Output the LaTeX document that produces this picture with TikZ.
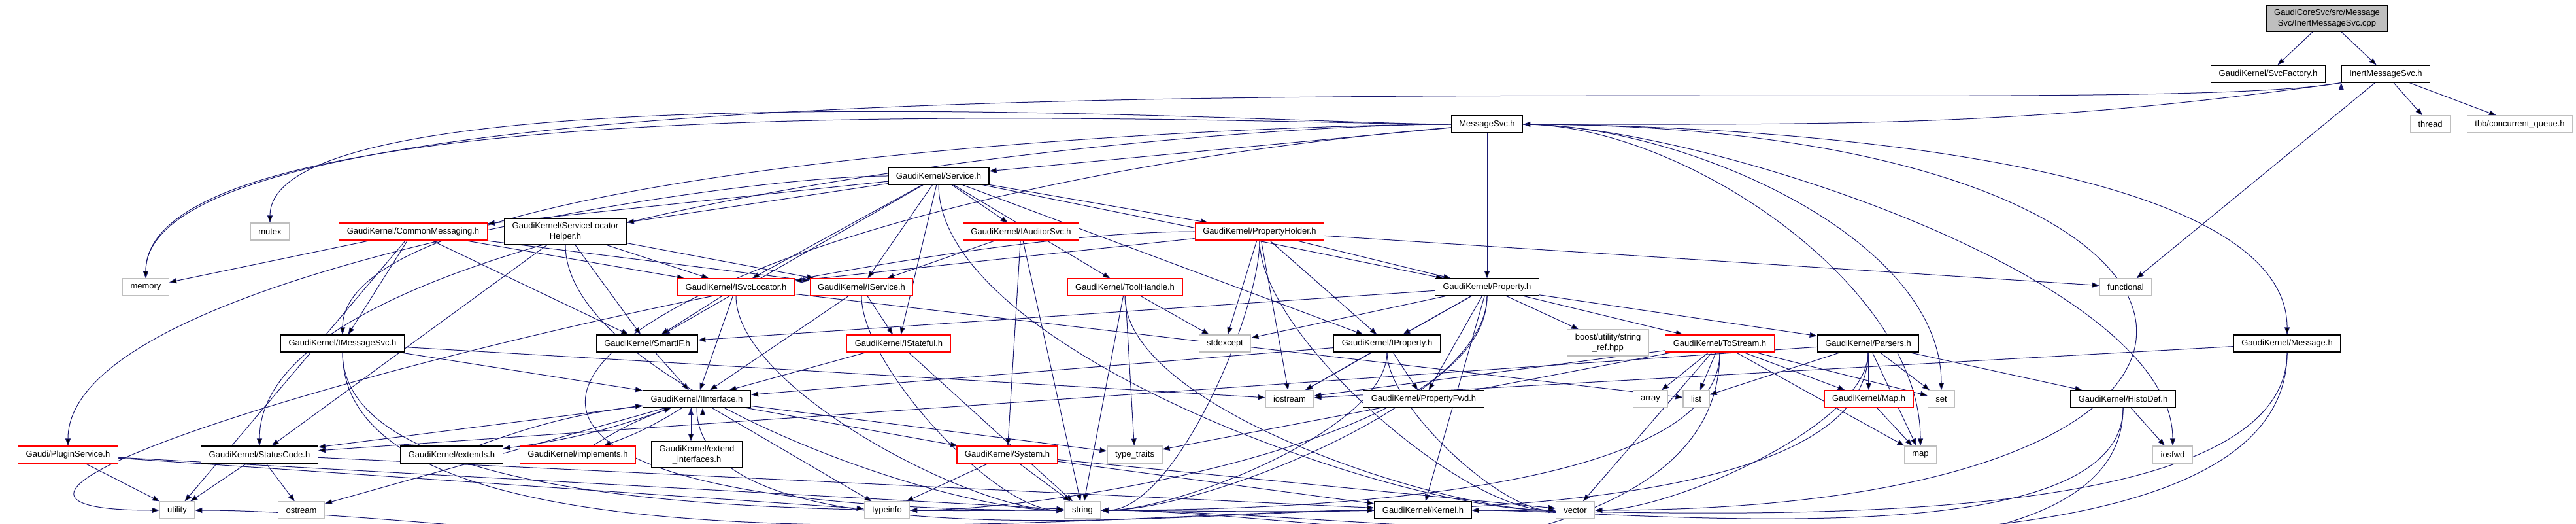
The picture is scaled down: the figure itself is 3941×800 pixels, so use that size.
\documentclass[tikz,border=0pt]{standalone}
\usepackage{fontspec}
\setmainfont{Liberation Sans}
\usetikzlibrary{arrows.meta, backgrounds}
\definecolor{edgeblue}{RGB}{25, 25, 112}
\definecolor{boxred}{RGB}{255, 0, 0}
\definecolor{boxgray}{RGB}{191, 191, 191}

\tikzset{
  hdr/.style={draw=black, fill=white, line width=0.24pt, align=center, inner xsep=2.4pt, inner ysep=1.2pt, minimum height=5.2pt, font=\fontsize{2.6}{3.2}\selectfont},
  hdrred/.style={hdr, draw=boxred},
  sysinc/.style={hdr, draw=boxgray},
  srcfile/.style={hdr, fill=boxgray},
  incl/.style={draw=edgeblue, line width=0.2pt, -{Triangle[length=2.2pt, width=1.6pt]}},
  dropleft/.style={out=180, in=90, looseness=#1},
  intoside/.style={out=-90, in=#1, looseness=0.6},
}

\begin{document}
\begin{tikzpicture}[x=0.2pt, y=0.2pt]
  \useasboundingbox (0,0) rectangle (3941,800);

  % the file and what it includes
  \node[srcfile] (cpp) at (3560,772) {GaudiCoreSvc/src/Message\\Svc/InertMessageSvc.cpp};
  \node[hdr] (svcfac) at (3470,687) {GaudiKernel/SvcFactory.h};
  \node[hdr] (inert) at (3650,687) {InertMessageSvc.h};

  % rank 2 and 3
  \node[hdr] (msgsvc) at (2275,610) {MessageSvc.h};
  \node[sysinc] (thread) at (3718,610) {thread};
  \node[sysinc] (tbb) at (3855,610) {tbb/concurrent\_queue.h};
  \node[hdr] (service) at (1436,531) {GaudiKernel/Service.h};

  % rank 4
  \node[sysinc] (mutex) at (413,446) {mutex};
  \node[hdrred] (commsg) at (632,446) {GaudiKernel/CommonMessaging.h};
  \node[hdr] (slhelper) at (865,446) {GaudiKernel/ServiceLocator\\Helper.h};
  \node[hdrred] (iaudit) at (1562,446) {GaudiKernel/IAuditorSvc.h};
  \node[hdrred] (propholder) at (1927,446) {GaudiKernel/PropertyHolder.h};

  % rank 5
  \node[sysinc] (memory) at (223,361) {memory};
  \node[hdrred] (isvcloc) at (1126,361) {GaudiKernel/ISvcLocator.h};
  \node[hdrred] (iservice) at (1318,361) {GaudiKernel/IService.h};
  \node[hdrred] (toolhandle) at (1721,361) {GaudiKernel/ToolHandle.h};
  \node[hdr] (property) at (2275,361) {GaudiKernel/Property.h};
  \node[sysinc] (functional) at (3252,361) {functional};

  % rank 6
  \node[hdr] (imsgsvc) at (524,275) {GaudiKernel/IMessageSvc.h};
  \node[hdr] (smartif) at (990,275) {GaudiKernel/SmartIF.h};
  \node[hdrred] (istateful) at (1375,275) {GaudiKernel/IStateful.h};
  \node[sysinc] (stdexcept) at (1874,275) {stdexcept};
  \node[hdr] (iprop) at (2122,275) {GaudiKernel/IProperty.h};
  \node[sysinc] (boostref) at (2460,276) {boost/utility/string\\\_ref.hpp};
  \node[hdrred] (tostream) at (2631,275) {GaudiKernel/ToStream.h};
  \node[hdr] (parsers) at (2858,275) {GaudiKernel/Parsers.h};
  \node[hdr] (message) at (3499,275) {GaudiKernel/Message.h};

  % rank 7
  \node[hdr] (iiface) at (1066,190) {GaudiKernel/IInterface.h};
  \node[sysinc] (iostream) at (1973,190) {iostream};
  \node[hdr] (propfwd) at (2178,190) {GaudiKernel/PropertyFwd.h};
  \node[sysinc] (array) at (2525,190) {array};
  \node[sysinc] (list) at (2595,190) {list};
  \node[hdrred] (gkmap) at (2859,190) {GaudiKernel/Map.h};
  \node[sysinc] (set) at (2970,190) {set};
  \node[hdr] (histodef) at (3248,190) {GaudiKernel/HistoDef.h};

  % rank 8
  \node[hdrred] (pluginsvc) at (104,105) {Gaudi/PluginService.h};
  \node[hdr] (statuscode) at (397,105) {GaudiKernel/StatusCode.h};
  \node[hdr] (extends) at (691,105) {GaudiKernel/extends.h};
  \node[hdrred] (implements) at (884,105) {GaudiKernel/implements.h};
  \node[hdr] (extiface) at (1066,105) {GaudiKernel/extend\\\_interfaces.h};
  \node[hdrred] (system) at (1541,105) {GaudiKernel/System.h};
  \node[sysinc] (typetraits) at (1736,105) {type\_traits};
  \node[sysinc] (map) at (2938,105) {map};
  \node[sysinc] (iosfwd) at (3324,105) {iosfwd};

  % rank 9
  \node[sysinc] (utility) at (271,20) {utility};
  \node[sysinc] (ostream) at (461,20) {ostream};
  \node[sysinc] (typeinfo) at (1357,20) {typeinfo};
  \node[sysinc] (string) at (1656,20) {string};
  \node[hdr] (kernel) at (2177,20) {GaudiKernel/Kernel.h};
  \node[sysinc] (vector) at (2410,20) {vector};

  \begin{scope}[on background layer]
    % InertMessageSvc.cpp, InertMessageSvc.h
    \path[incl] (cpp) edge (svcfac) edge (inert);
    \path[incl] (inert) edge (thread) edge (tbb) edge (functional);
    \path[incl] (inert.south west) edge[out=188, in=0] (msgsvc.east)
      edge[out=190, in=90, looseness=0.3] (memory);

    % MessageSvc.h
    \path[incl] (msgsvc) edge (service) edge (property)
      edge[out=185, in=180, looseness=4] (string)
      edge[dropleft=0.4] (imsgsvc) edge[dropleft=0.5] (statuscode)
      edge[dropleft=0.4] (memory) edge[dropleft=0.35] (mutex)
      edge[out=0, in=0, looseness=5] (vector)
      edge[out=0, in=90, looseness=0.8] (map) edge[out=0, in=90, looseness=0.8] (set)
      edge[out=0, in=90, looseness=0.6] (iosfwd) edge[out=0, in=90, looseness=0.6] (message);

    % Service.h
    \path[incl] (service) edge (commsg) edge (slhelper) edge (iaudit) edge (propholder)
      edge (isvcloc) edge (iservice) edge (istateful) edge (toolhandle)
      edge (property) edge (iprop) edge (smartif)
      edge[dropleft=0.5] (pluginsvc) edge[intoside=180] (vector);

    % rank 4 headers
    \path[incl] (commsg) edge (memory) edge (utility) edge (imsgsvc) edge (smartif)
      edge (isvcloc) edge (iservice);
    \path[incl] (slhelper) edge (isvcloc) edge (iservice) edge (smartif) edge (statuscode)
      edge[intoside=180] (string);
    \path[incl] (iaudit) edge (iservice) edge (system) edge (string);
    \path[incl] (propholder) edge (isvcloc) edge (iprop) edge (property) edge (functional)
      edge (iostream) edge (stdexcept) edge[intoside=0] (string)
      edge[out=180, in=180, looseness=0.9] (utility) edge[intoside=180] (vector);

    % rank 5 headers
    \path[incl] (isvcloc) edge (iiface) edge (smartif) edge (list) edge[intoside=180] (string);
    \path[incl] (iservice) edge (iiface) edge (istateful) edge[intoside=180] (string);
    \path[incl] (toolhandle) edge (stdexcept) edge (typetraits) edge (string)
      edge[intoside=180] (vector);
    \path[incl] (property) edge (iprop) edge (propfwd) edge (smartif) edge (kernel)
      edge (tostream) edge (parsers) edge (boostref) edge (iostream) edge (stdexcept)
      edge[intoside=0] (string) edge[intoside=0] (typeinfo);

    % rank 6 headers
    \path[incl] (imsgsvc) edge (iiface) edge (iostream) edge[intoside=180] (string)
      edge[intoside=180] (kernel);
    \path[incl] (smartif) edge (iiface);
    \path[incl] (istateful) edge (iiface) edge (string);
    \path[incl] (iprop) edge (iiface) edge (propfwd) edge (iostream) edge[intoside=0] (string)
      edge[intoside=180] (vector);
    \path[incl] (tostream) edge (array) edge (list) edge (gkmap) edge (set) edge (map)
      edge (vector) edge (iostream) edge (typetraits) edge[intoside=0] (string)
      edge[intoside=0] (utility);
    \path[incl] (parsers) edge (list) edge (statuscode) edge (gkmap) edge (set) edge (map)
      edge (histodef) edge[intoside=0] (string) edge[intoside=0] (vector);
    \path[incl] (message) edge (iostream) edge[intoside=0] (string) edge[intoside=0] (kernel);

    % IInterface.h and friends
    \path[incl] (iiface) edge (statuscode) edge[bend left=6] (extends)
      edge[bend left=6] (implements) edge (system) edge (typetraits) edge (typeinfo)
      edge (ostream) edge[intoside=180] (kernel);
    \path[incl] ([xshift=-1.8pt]iiface.south) edge ([xshift=-1.8pt]extiface.north);
    \path[incl] ([xshift=1.8pt]extiface.north) edge ([xshift=1.8pt]iiface.south);
    \path[incl] (extends) edge[bend left=6] (iiface);
    \path[incl] (implements) edge[bend left=6] (iiface);
    \path[incl] (gkmap) edge (map);
    \path[incl] (histodef) edge (iosfwd) edge[intoside=0] (string) edge[intoside=0] (kernel);

    % rank 8 headers
    \path[incl] (statuscode) edge (utility) edge (ostream) edge (kernel);
    \path[incl] (pluginsvc) edge (utility) edge (string) edge (typeinfo);
    \path[incl] (system) edge (typeinfo) edge (string) edge (kernel) edge (vector);
  \end{scope}
\end{tikzpicture}
\end{document}
